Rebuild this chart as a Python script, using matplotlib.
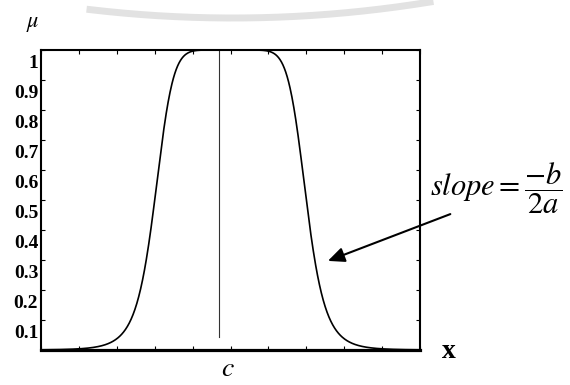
import numpy as np
import matplotlib
matplotlib.use("Agg")
import matplotlib.pyplot as plt
from matplotlib.transforms import ScaledTranslation
from matplotlib.lines import Line2D

# Generalized bell membership function parameters
a_width = 2.0     # half width at mu = 0.5
b_shape = 4.0     # steepness
c_center = 5.0    # centre
x_range = [0.0, 10.0]
marker_x = 4.7    # vertical marker line
y_ticks = [0.1, 0.2, 0.3, 0.4, 0.5, 0.6, 0.7, 0.8, 0.9, 1.0]
y_tick_labels = ["0.1", "0.2", "0.3", "0.4", "0.5", "0.6", "0.7", "0.8", "0.9", "1"]
x_ticks = [0, 1, 2, 3, 4, 5, 6, 7, 8, 9, 10]

plt.rcParams["mathtext.fontset"] = "stix"
serif = ["Liberation Serif", "DejaVu Serif"]

fig = plt.figure(figsize=(5.7, 3.85), dpi=100)
ax = fig.add_axes([41 / 570, 35 / 385, 379 / 570, 300 / 385])

x = np.linspace(x_range[0], x_range[1], 800)
mu = 1.0 / (1.0 + np.abs((x - c_center) / a_width) ** (2 * b_shape))
ax.plot(x, mu, color="black", lw=1.2)
ax.plot([marker_x, marker_x], [0.045, 1.0], color="#333333", lw=0.8)

ax.set_xlim(*x_range)
ax.set_ylim(0, 1)
ax.set_xticks(x_ticks)
ax.set_xticklabels([])
ax.set_yticks(y_ticks)
ax.set_yticklabels(y_tick_labels, fontfamily=serif, fontweight="bold", fontsize=14)
ax.tick_params(direction="in", length=3, width=0.8, top=True, right=True, pad=2)

for side, w in [("left", 1.5), ("top", 1.5), ("right", 1.5), ("bottom", 2.3)]:
    ax.spines[side].set_linewidth(w)

# tick labels sit a little below their ticks
offset = ScaledTranslation(0, -12 / 100, fig.dpi_scale_trans)
for lbl in ax.get_yticklabels():
    lbl.set_transform(lbl.get_transform() + offset)

fig.text(33 / 570, 1 - 24 / 385, r"$\mu$", fontsize=16, ha="center", va="center")
fig.text(449 / 570, 1 - 352 / 385, "x", fontfamily=serif, fontweight="bold",
         fontsize=20, ha="center", va="center")
fig.text(228 / 570, 1 - 368 / 385, r"$c$", fontsize=20, ha="center", va="center")
fig.text(430 / 570, 1 - 188 / 385, r"$slope=\dfrac{-b}{2a}$", fontsize=22,
         ha="left", va="center")

ax.annotate("", xy=(7.57, 0.297), xytext=(10.8, 0.453), xycoords="data",
            annotation_clip=False,
            arrowprops=dict(arrowstyle="-|>,head_length=1.0,head_width=0.45",
                            color="black", lw=1.5, shrinkA=0, shrinkB=0))

# light grey arc across the top edge
t = np.linspace(0, 1, 200)
arc_x = 90 + t * 340
arc_y = 16 * (1 - ((t - 0.42) / 0.58) ** 2) + 2
fig.add_artist(Line2D(arc_x / 570, 1 - arc_y / 385, color="#e2e2e2", lw=5,
                      transform=fig.transFigure, zorder=0))

fig.savefig("out.png", dpi=100)
